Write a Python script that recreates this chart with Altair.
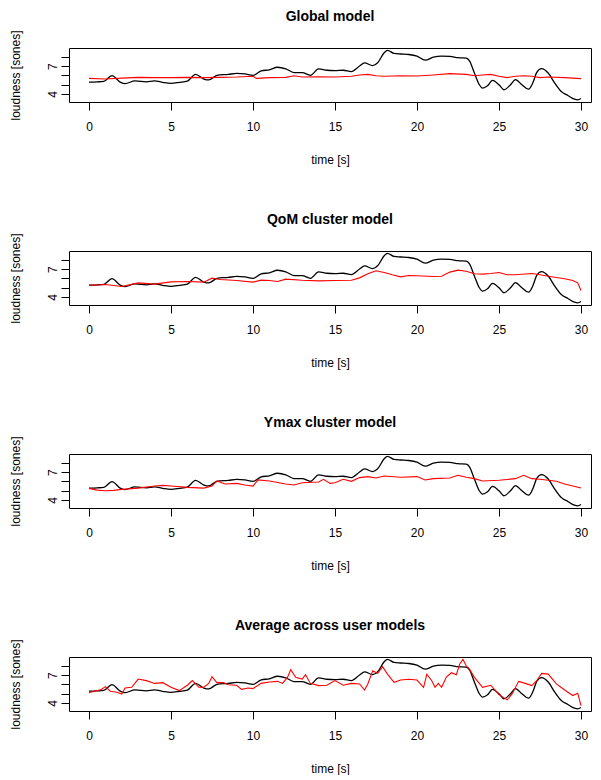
import altair as alt
import pandas as pd

# Reference (measured) loudness, black line, identical in all panels
black_t = [0, 0.5, 0.9, 1.4, 1.9, 2.2, 2.8, 3.5, 4.0, 4.5, 5.0, 5.5, 6.0, 6.5, 7.0, 7.3, 7.8,
           8.5, 9.0, 9.5, 10.0, 10.5, 11.0, 11.5, 12.0, 12.5, 13.0, 13.5, 14.0, 14.5, 15.0,
           15.5, 16.0, 16.5, 16.8, 17.3, 17.6, 18.0, 18.2, 18.6, 19.0, 19.5, 20.0, 20.5, 21.0,
           21.5, 22.0, 22.5, 23.0, 23.2, 23.5, 23.8, 24.0, 24.3, 24.6, 25.0, 25.3, 25.7, 26.0,
           26.4, 26.8, 27.1, 27.3, 27.6, 28.0, 28.4, 28.8, 29.2, 29.6, 29.8, 30.0]
black_v = [5.27, 5.30, 5.35, 5.96, 5.27, 5.10, 5.40, 5.30, 5.40, 5.24, 5.13, 5.24, 5.38, 6.10,
           5.60, 5.50, 6.00, 6.10, 6.20, 6.15, 6.00, 6.47, 6.60, 6.87, 6.70, 6.30, 6.30, 6.00,
           6.70, 6.55, 6.50, 6.55, 6.40, 7.00, 7.35, 7.05, 7.35, 8.44, 8.70, 8.36, 8.30, 8.25,
           8.07, 7.64, 7.96, 8.07, 8.04, 7.90, 7.85, 7.56, 6.25, 4.98, 4.62, 4.87, 5.45, 4.98,
           4.44, 4.98, 5.53, 4.98, 4.50, 5.35, 6.33, 6.73, 6.25, 5.16, 4.25, 3.82, 3.42, 3.35,
           3.50]

# Model predictions, red lines
global_t = [0, 1, 2, 3, 4, 5, 6, 7, 8, 9, 10, 10.2, 11, 12, 12.5, 13, 14, 15, 16, 16.5, 17,
            17.5, 18, 19, 20, 21, 22, 23, 23.5, 24, 24.5, 25, 25.5, 26, 26.5, 27, 27.5, 28,
            29, 30]
global_v = [5.67, 5.60, 5.70, 5.78, 5.75, 5.75, 5.78, 5.75, 5.78, 5.82, 5.90, 5.67, 5.75,
            5.78, 5.96, 5.82, 5.85, 5.82, 5.90, 6.04, 6.10, 5.96, 5.90, 5.96, 5.93, 6.04,
            6.18, 6.10, 5.96, 6.04, 6.10, 5.90, 5.75, 5.90, 5.96, 5.90, 5.75, 5.82, 5.75, 5.64]

qom_t = [0, 1, 2, 3, 4, 5, 6, 7, 7.5, 8, 9, 10, 10.5, 11, 11.5, 12, 13, 14, 15, 16, 16.5,
         17, 17.5, 18, 18.5, 19, 19.5, 20, 21, 21.5, 22, 22.5, 23, 23.5, 24, 24.5, 25, 25.5,
         26, 27, 27.5, 28, 28.5, 29, 29.5, 29.8, 30]
qom_v = [5.26, 5.33, 5.12, 5.51, 5.37, 5.62, 5.66, 5.59, 6.02, 5.87, 5.77, 5.59, 5.80, 5.77,
         5.66, 5.91, 5.80, 5.73, 5.77, 5.80, 6.05, 6.49, 6.81, 6.63, 6.38, 6.16, 6.30, 6.27,
         6.20, 6.23, 6.67, 6.88, 6.77, 6.49, 6.45, 6.52, 6.63, 6.38, 6.38, 6.52, 6.38, 6.23,
         6.09, 5.95, 5.77, 5.51, 4.68]

ymax_t = [0, 0.5, 1, 1.5, 2, 3, 4, 4.5, 5, 6, 7, 7.5, 7.8, 8.3, 9, 9.5, 10, 10.3, 11, 12,
          12.5, 13, 14, 14.3, 14.7, 15, 15.5, 16, 16.5, 17, 17.5, 18, 19, 20, 20.5, 21, 22,
          22.5, 23, 23.5, 24, 25, 26, 26.5, 27, 27.5, 28, 28.5, 29, 29.5, 30]
ymax_v = [5.24, 5.05, 4.98, 5.02, 5.13, 5.27, 5.49, 5.56, 5.49, 5.35, 5.27, 5.49, 6.04, 5.71,
          5.78, 5.60, 5.49, 6.15, 6.04, 5.71, 5.60, 5.85, 5.93, 6.22, 5.78, 5.85, 6.22, 6.00,
          6.40, 6.51, 6.36, 6.58, 6.44, 6.51, 6.15, 6.29, 6.36, 6.65, 6.44, 6.29, 6.04, 6.11,
          6.29, 6.65, 6.29, 6.22, 6.11, 6.00, 5.71, 5.49, 5.27]

avg_t = [0, 0.3, 0.7, 1.0, 1.3, 1.7, 2.0, 2.2, 2.6, 3.0, 3.5, 4.0, 4.5, 5.0, 5.5, 6.0, 6.3,
         6.7, 7.0, 7.3, 7.5, 7.8, 8.2, 8.5, 9.0, 9.3, 9.7, 10.0, 10.5, 11.0, 11.5, 11.8, 12.1,
         12.3, 12.6, 13.0, 13.2, 13.5, 14.0, 14.5, 15.0, 15.5, 16.0, 16.5, 16.8, 17.0, 17.3,
         17.6, 17.9, 18.2, 18.6, 19.0, 19.5, 20.0, 20.4, 20.6, 20.9, 21.1, 21.3, 21.5, 21.8,
         22.1, 22.4, 22.6, 22.8, 23.0, 23.2, 23.5, 24.0, 24.5, 25.0, 25.5, 25.8, 26.2, 26.6,
         27.0, 27.3, 27.6, 28.0, 28.5, 29.0, 29.5, 29.8, 30.0]
avg_v = [5.10, 5.25, 5.40, 5.75, 5.25, 5.14, 4.96, 5.60, 5.68, 6.57, 6.40, 6.10, 6.18, 5.68,
         5.32, 5.90, 6.40, 5.68, 5.68, 6.10, 6.82, 6.18, 6.18, 5.96, 5.90, 5.46, 5.60, 5.54,
         6.10, 6.25, 6.32, 6.10, 6.75, 7.57, 6.75, 6.57, 7.04, 6.10, 5.86, 5.90, 6.40, 5.90,
         6.10, 6.04, 5.39, 6.04, 7.46, 7.18, 7.89, 7.10, 6.21, 6.46, 6.54, 6.46, 5.68, 7.10,
         6.39, 5.68, 6.10, 5.68, 6.82, 7.25, 7.04, 8.18, 8.71, 8.00, 7.64, 6.75, 5.68, 5.90,
         4.89, 4.32, 4.96, 6.32, 6.10, 5.86, 6.39, 7.18, 7.10, 6.04, 5.39, 4.79, 5.04, 3.71]

titles = ["Global model", "QoM cluster model", "Ymax cluster model",
          "Average across user models"]
reds = [(global_t, global_v), (qom_t, qom_v), (ymax_t, ymax_v), (avg_t, avg_v)]

x_ticks = [0, 5, 10, 15, 20, 25, 30]
y_ticks = [4, 5, 6, 7, 8]

FONT = "Liberation Sans"


def panel(title, rt, rv):
    df_b = pd.DataFrame({"t": black_t, "v": black_v})
    df_r = pd.DataFrame({"t": rt, "v": rv})
    x = alt.X("t:Q",
              scale=alt.Scale(domain=[-1.22, 30.61], nice=False, zero=False),
              axis=alt.Axis(values=x_ticks, title="time [s]", format="d",
                            labelPadding=11, titlePadding=22, grid=False, domain=False,
                            tickSize=8, tickColor="#000000", labelColor="#000000",
                            labelFont=FONT, labelFontSize=12, titleFont=FONT,
                            titleFontSize=12, titleFontWeight="normal",
                            titleColor="#000000"))
    y = alt.Y("v:Q",
              scale=alt.Scale(domain=[3.12, 8.95], nice=False, zero=False),
              axis=alt.Axis(values=y_ticks, title="loudness [sones]",
                            labelExpr="(datum.value == 4 || datum.value == 7) ? datum.label : ''",
                            labelAngle=270, labelAlign="center", labelBaseline="bottom",
                            labelPadding=2, titlePadding=24, grid=False, domain=False,
                            tickSize=8, tickColor="#000000", labelColor="#000000",
                            labelFont=FONT, labelFontSize=12, titleFont=FONT,
                            titleFontSize=12, titleFontWeight="normal",
                            titleColor="#000000"))
    b = alt.Chart(df_b).mark_line(color="#000000", strokeWidth=1.3,
                                  interpolate="monotone", clip=True).encode(x=x, y=y)
    r = alt.Chart(df_r).mark_line(color="#ff0000", strokeWidth=1.1,
                                  clip=True).encode(x=x, y=y)
    return alt.layer(b, r).properties(
        width=522, height=54,
        title=alt.TitleParams(title, anchor="middle", frame="group", offset=-8,
                              baseline="bottom", fontSize=14, fontWeight="bold",
                              font=FONT, color="#000000"))


chart = alt.vconcat(*[panel(tt, rt, rv) for tt, (rt, rv) in zip(titles, reds)],
                    spacing=46).properties(
    padding={"left": 0, "top": 1, "right": 0, "bottom": 0},
    background="white"
).configure_view(
    stroke="#000000", strokeWidth=1
)

chart.save("out.html", embed_options={"renderer": "svg", "actions": False})
